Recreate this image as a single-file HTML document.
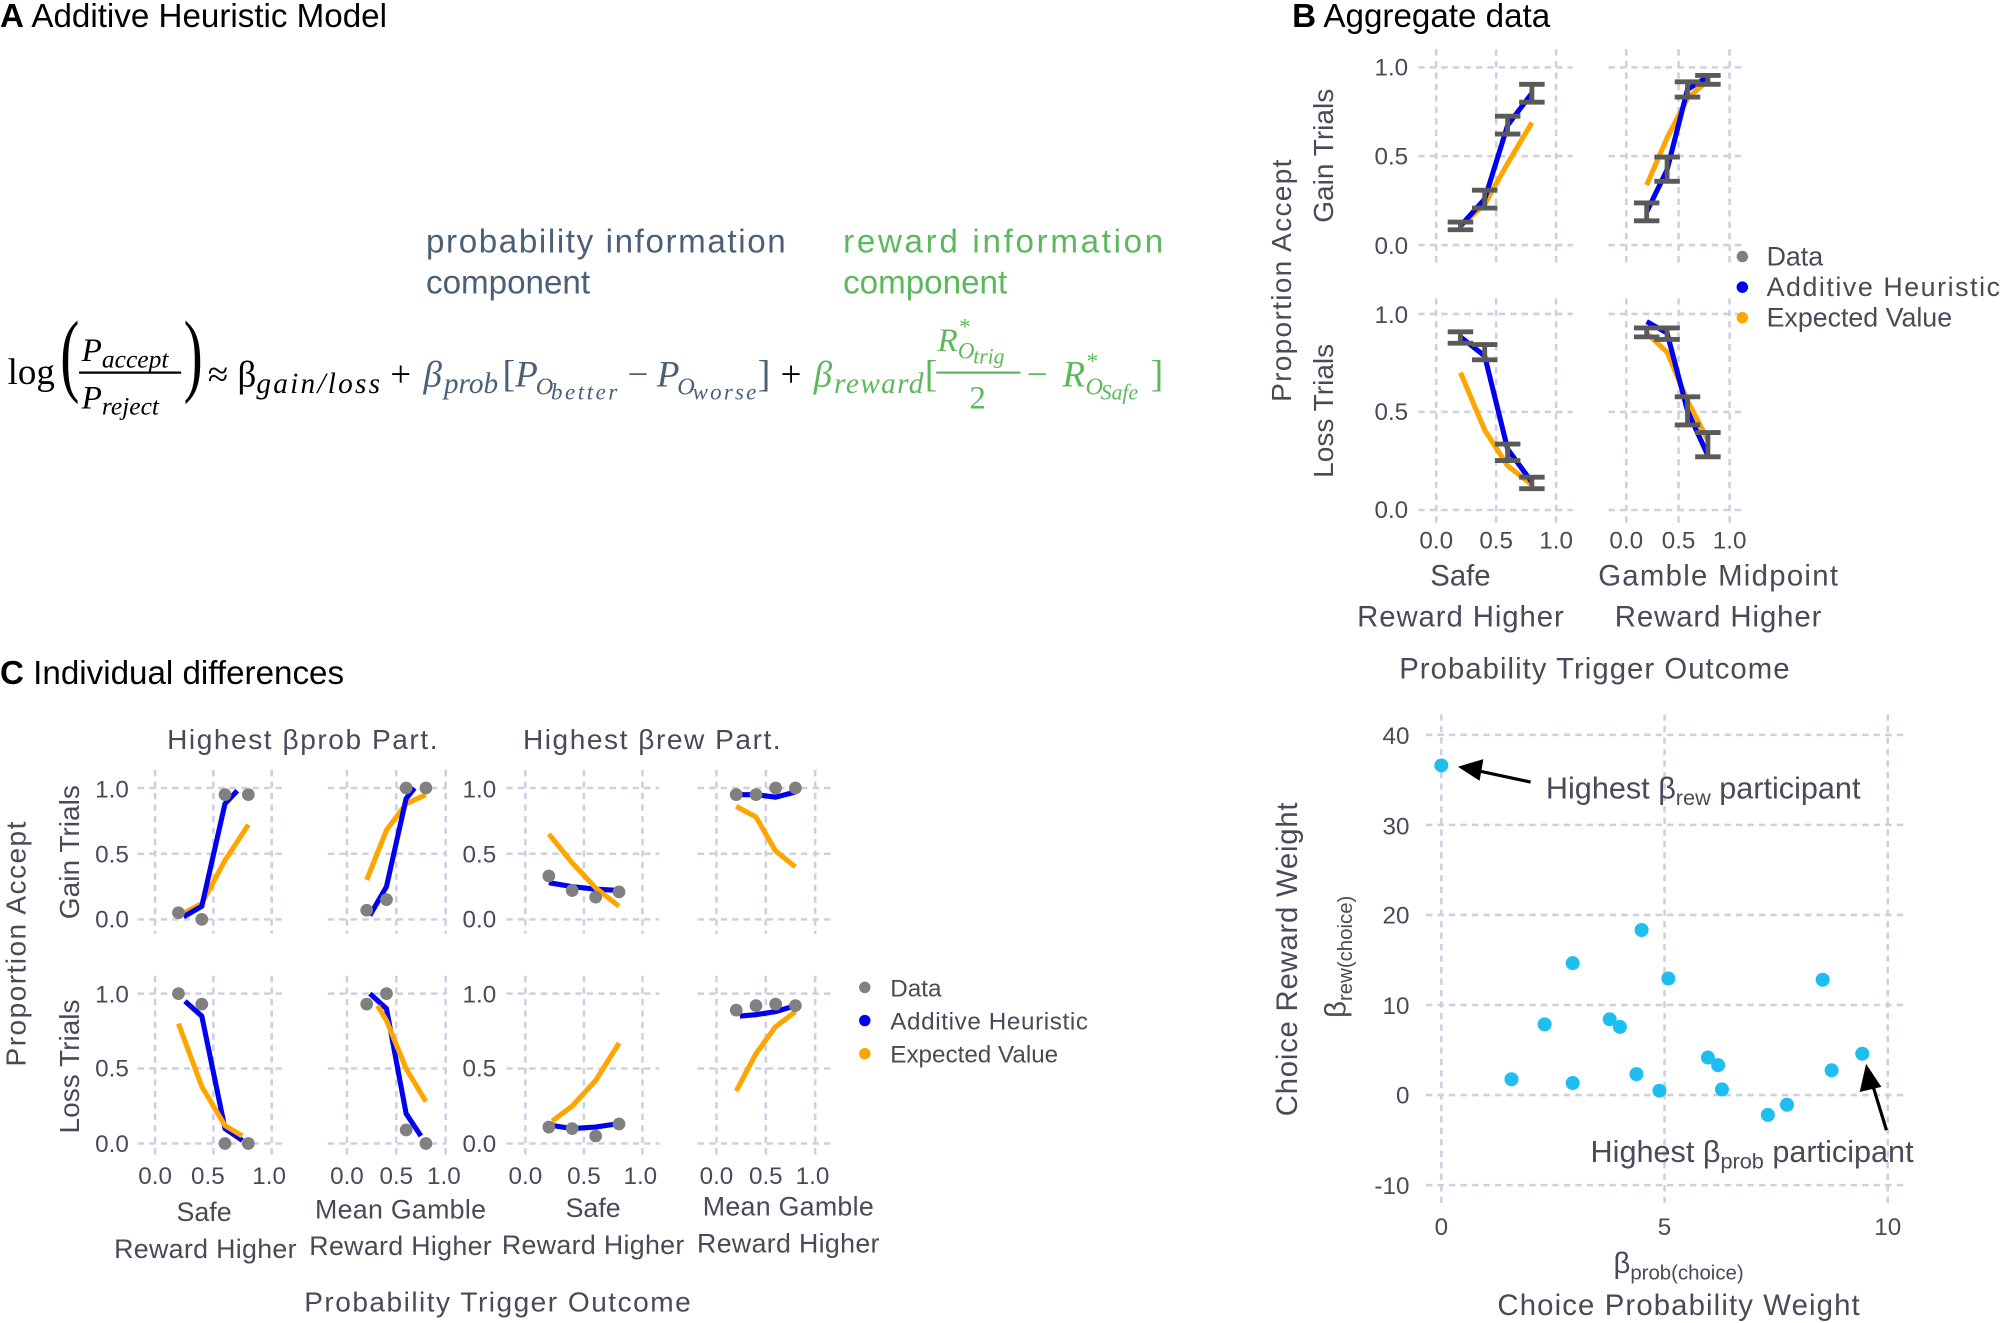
<!DOCTYPE html>
<html><head><meta charset="utf-8"><style>
html,body{margin:0;padding:0;background:#fff}
svg{display:block}
text{font-family:"Liberation Sans",sans-serif;fill:#4b4858}
.g{stroke:#cfcfe2;stroke-width:2;stroke-dasharray:5 4;fill:none}
.bl{stroke:#0000f0;stroke-width:4;fill:none;stroke-linejoin:round}
.or{stroke:#ffa500;stroke-width:4;fill:none;stroke-linejoin:round}
.eb{stroke:#5a5a5a;stroke-width:3.8;fill:none}
.d{fill:#808080}
.tk{font-size:19px}
.s{font-family:"Liberation Serif",serif}
</style></head><body>
<svg width="2000" height="1323" viewBox="0 0 1568 1037" xmlns="http://www.w3.org/2000/svg">
<!-- Panel A -->
<text x="0" y="21" font-size="26" style="fill:#000"><tspan font-weight="bold">A</tspan> Additive Heuristic Model</text>
<text x="334" y="198" font-size="26" textLength="282" style="fill:#4a5f78">probability information</text>
<text x="334" y="230" font-size="26" style="fill:#4a5f78">component</text>
<text x="661" y="198" font-size="26" textLength="251" style="fill:#5cb85c">reward information</text>
<text x="661" y="230" font-size="26" style="fill:#5cb85c">component</text>
<text x="6" y="301" font-size="29" class="s" style="fill:#000">log</text>
<text x="48" y="306" font-size="60" class="s" style="fill:#000" transform="scale(0.75,1.2) translate(15,-55)">(</text>
<text x="64" y="283" font-size="26" font-style="italic" class="s" style="fill:#000">P<tspan font-size="20" dy="5">accept</tspan></text>
<line x1="62" y1="292" x2="142" y2="292" stroke="#000" stroke-width="1.8"/>
<text x="64" y="320" font-size="26" font-style="italic" class="s" style="fill:#000">P<tspan font-size="20" dy="5">reject</tspan></text>
<text x="142" y="306" font-size="60" class="s" style="fill:#000" transform="scale(0.75,1.2) translate(50,-55)">)</text>
<text x="163" y="303" font-size="29" class="s" style="fill:#000">≈ β</text>
<text x="201" y="308" font-size="23" font-style="italic" class="s" style="fill:#000" textLength="97">gain/loss</text>
<text x="306" y="303" font-size="29" class="s" style="fill:#000">+</text>
<text x="332" y="303" font-size="29" font-style="italic" class="s" style="fill:#4a5f78">β</text>
<text x="348" y="308" font-size="23" font-style="italic" class="s" style="fill:#4a5f78">prob</text>
<text x="394" y="303" font-size="30" class="s" style="fill:#4a5f78">[</text>
<text x="404" y="303" font-size="29" font-style="italic" class="s" style="fill:#4a5f78">P</text>
<text x="420" y="309" font-size="19" font-style="italic" class="s" style="fill:#4a5f78">O</text>
<text x="432" y="313" font-size="18" font-style="italic" class="s" style="fill:#4a5f78" textLength="52">better</text>
<text x="492" y="303" font-size="29" class="s" style="fill:#4a5f78">−</text>
<text x="515" y="303" font-size="29" font-style="italic" class="s" style="fill:#4a5f78">P</text>
<text x="531" y="309" font-size="19" font-style="italic" class="s" style="fill:#4a5f78">O</text>
<text x="543" y="313" font-size="18" font-style="italic" class="s" style="fill:#4a5f78" textLength="50">worse</text>
<text x="594" y="303" font-size="30" class="s" style="fill:#4a5f78">]</text>
<text x="612" y="303" font-size="29" class="s" style="fill:#000">+</text>
<text x="638" y="303" font-size="29" font-style="italic" class="s" style="fill:#5cb85c">β</text>
<text x="654" y="308" font-size="23" font-style="italic" class="s" style="fill:#5cb85c" textLength="70">reward</text>
<text x="725" y="303" font-size="30" class="s" style="fill:#5cb85c">[</text>
<text x="735" y="275" font-size="26" font-style="italic" class="s" style="fill:#5cb85c">R</text>
<text x="752" y="262" font-size="18" class="s" style="fill:#5cb85c">*</text>
<text x="751" y="281" font-size="18" font-style="italic" class="s" style="fill:#5cb85c">O</text>
<text x="763" y="285" font-size="17" font-style="italic" class="s" style="fill:#5cb85c">trig</text>
<line x1="734" y1="292" x2="800" y2="292" stroke="#5cb85c" stroke-width="1.8"/>
<text x="760" y="320" font-size="26" class="s" style="fill:#5cb85c">2</text>
<text x="805" y="303" font-size="29" class="s" style="fill:#5cb85c">−</text>
<text x="833" y="303" font-size="29" font-style="italic" class="s" style="fill:#5cb85c">R</text>
<text x="852" y="289" font-size="18" class="s" style="fill:#5cb85c">*</text>
<text x="851" y="309" font-size="19" font-style="italic" class="s" style="fill:#5cb85c">O</text>
<text x="863" y="313" font-size="17" font-style="italic" class="s" style="fill:#5cb85c">Safe</text>
<text x="902" y="303" font-size="30" class="s" style="fill:#5cb85c">]</text>

<!-- Panel B -->
<text x="1013" y="21" font-size="26" style="fill:#000"><tspan font-weight="bold">B</tspan> Aggregate data</text>
<g class="g">
<path d="M1112 52.7H1233M1112 122.3H1233M1112 192H1233M1126 38.6V205.6M1173 38.6V205.6M1220 38.6V205.6"/>
<path d="M1261 52.7H1368M1261 122.3H1368M1261 192H1368M1275 38.6V205.6M1316 38.6V205.6M1356 38.6V205.6"/>
<path d="M1112 246H1233M1112 322.8H1233M1112 399.7H1233M1126 233.7V411.4M1173 233.7V411.4M1220 233.7V411.4"/>
<path d="M1261 246H1368M1261 322.8H1368M1261 399.7H1368M1275 233.7V411.4M1316 233.7V411.4M1356 233.7V411.4"/>
</g>
<g class="tk" text-anchor="end">
<text x="1104" y="59">1.0</text><text x="1104" y="129">0.5</text><text x="1104" y="199">0.0</text>
<text x="1104" y="253">1.0</text><text x="1104" y="329">0.5</text><text x="1104" y="406">0.0</text>
</g>
<g class="tk" text-anchor="middle">
<text x="1126" y="430">0.0</text><text x="1173" y="430">0.5</text><text x="1220" y="430">1.0</text>
<text x="1275" y="430">0.0</text><text x="1316" y="430">0.5</text><text x="1356" y="430">1.0</text>
</g>
<polyline class="or" points="1145,177 1164,160 1182,128 1201,96"/>
<polyline class="bl" points="1145,177 1164,156 1182,98 1201,73"/>
<path class="eb" d="M1135 180H1155M1135 174H1155M1145 180V174M1154 163H1174M1154 149H1174M1164 163V149M1172 105H1192M1172 91H1192M1182 105V91M1191 80H1211M1191 66H1211M1201 80V66"/>
<polyline class="or" points="1291,145 1307,108 1323,77 1339,63"/>
<polyline class="bl" points="1291,166 1307,133 1323,70 1339,60"/>
<path class="eb" d="M1281 173H1301M1281 159H1301M1291 173V159M1297 142H1317M1297 123H1317M1307 142V123M1313 76H1333M1313 64H1333M1323 76V64M1329 66H1349M1329 59H1349M1339 66V59"/>
<polyline class="or" points="1145,292 1164,337 1182,365 1201,380"/>
<polyline class="bl" points="1145,264 1164,279 1182,352 1201,378"/>
<path class="eb" d="M1135 269H1155M1135 260H1155M1145 269V260M1154 282H1174M1154 270H1174M1164 282V270M1172 361H1192M1172 348H1192M1182 361V348M1191 383H1211M1191 374H1211M1201 383V374"/>
<polyline class="or" points="1291,261 1307,276 1323,314 1339,345"/>
<polyline class="bl" points="1291,252 1307,261 1323,322 1339,357"/>
<path class="eb" d="M1281 264H1301M1281 257H1301M1291 264V257M1297 266H1317M1297 257H1317M1307 266V257M1313 333H1333M1313 311H1333M1323 333V311M1329 358H1349M1329 339H1349M1339 358V339"/>
<circle cx="1366" cy="201" r="4.5" fill="#808080"/><circle cx="1366" cy="225" r="4.5" fill="#0000f0"/><circle cx="1366" cy="249" r="4.5" fill="#ffa500"/>
<text x="1385" y="208" font-size="21">Data</text>
<text x="1385" y="232" font-size="21" textLength="183">Additive Heuristic</text>
<text x="1385" y="256" font-size="21">Expected Value</text>
<text transform="translate(1012,220) rotate(-90)" text-anchor="middle" font-size="22" textLength="190">Proportion Accept</text>
<text transform="translate(1045,122) rotate(-90)" text-anchor="middle" font-size="22">Gain Trials</text>
<text transform="translate(1045,322) rotate(-90)" text-anchor="middle" font-size="22">Loss Trials</text>
<text x="1145" y="459" text-anchor="middle" font-size="23">Safe</text>
<text x="1145" y="491" text-anchor="middle" font-size="23" textLength="162">Reward Higher</text>
<text x="1347" y="459" text-anchor="middle" font-size="23" textLength="188">Gamble Midpoint</text>
<text x="1347" y="491" text-anchor="middle" font-size="23" textLength="162">Reward Higher</text>
<text x="1250" y="532" text-anchor="middle" font-size="23" textLength="306">Probability Trigger Outcome</text>

<!-- Panel C -->
<text x="0" y="536" font-size="26" style="fill:#000"><tspan font-weight="bold">C</tspan> Individual differences</text>
<text x="237" y="587" text-anchor="middle" font-size="22" textLength="212">Highest βprob Part.</text>
<text x="511" y="587" text-anchor="middle" font-size="22" textLength="202">Highest βrew Part.</text>
<g class="g">
<path d="M108 617.7H224M108 669.2H224M108 720.7H224M121.6 603.6V732M167.3 603.6V732M213 603.6V732"/>
<path d="M257 617.7H350M257 669.2H350M257 720.7H350M272 603.6V732M310.7 603.6V732M349.4 603.6V732"/>
<path d="M397 617.7H517M397 669.2H517M397 720.7H517M411.9 603.6V732M457.8 603.6V732M503.7 603.6V732"/>
<path d="M547 617.7H655M547 669.2H655M547 720.7H655M561.7 603.6V732M600.4 603.6V732M639.1 603.6V732"/>
<path d="M108 778.9H224M108 837.6H224M108 896.4H224M121.6 765V909M167.3 765V909M213 765V909"/>
<path d="M257 778.9H350M257 837.6H350M257 896.4H350M272 765V909M310.7 765V909M349.4 765V909"/>
<path d="M397 778.9H517M397 837.6H517M397 896.4H517M411.9 765V909M457.8 765V909M503.7 765V909"/>
<path d="M547 778.9H655M547 837.6H655M547 896.4H655M561.7 765V909M600.4 765V909M639.1 765V909"/>
</g>
<g class="tk" text-anchor="end">
<text x="101" y="625">1.0</text><text x="101" y="676">0.5</text><text x="101" y="727">0.0</text>
<text x="101" y="786">1.0</text><text x="101" y="844">0.5</text><text x="101" y="903">0.0</text>
<text x="389" y="625">1.0</text><text x="389" y="676">0.5</text><text x="389" y="727">0.0</text>
<text x="389" y="786">1.0</text><text x="389" y="844">0.5</text><text x="389" y="903">0.0</text>
</g>
<g class="tk" text-anchor="middle">
<text x="121.6" y="928">0.0</text><text x="163" y="928">0.5</text><text x="211" y="928">1.0</text>
<text x="272" y="928">0.0</text><text x="310.7" y="928">0.5</text><text x="348" y="928">1.0</text>
<text x="411.9" y="928">0.0</text><text x="457.8" y="928">0.5</text><text x="502" y="928">1.0</text>
<text x="561.7" y="928">0.0</text><text x="600.4" y="928">0.5</text><text x="637" y="928">1.0</text>
</g>
<polyline class="or" points="144.5,715.5 158.2,708.3 176.4,674.4 194.7,646.5"/>
<polyline class="bl" points="144,718.6 158.2,710.4 176.4,630 186,619.8"/>
<g class="d"><circle cx="139.9" cy="715.5" r="5"/><circle cx="158.2" cy="720.7" r="5"/><circle cx="176.4" cy="622.9" r="5"/><circle cx="194.7" cy="622.9" r="5"/></g>
<polyline class="or" points="287.5,689.8 303,650.7 318.4,630.1 333.9,622.9"/>
<polyline class="bl" points="290,717.6 303,695 318.4,626 325,617.7"/>
<g class="d"><circle cx="287.5" cy="713.5" r="5"/><circle cx="303" cy="705.2" r="5"/><circle cx="318.4" cy="617.7" r="5"/><circle cx="333.9" cy="617.7" r="5"/></g>
<polyline class="bl" points="430.3,691.9 448.6,695 467,697 485.3,698"/>
<polyline class="or" points="430.3,653.8 448.6,676.4 467,696 485.3,710.4"/>
<g class="d"><circle cx="430.3" cy="686.7" r="5"/><circle cx="448.6" cy="698" r="5"/><circle cx="467" cy="703.2" r="5"/><circle cx="485.3" cy="699.1" r="5"/></g>
<polyline class="bl" points="577.2,622.9 592.7,622.9 608.1,624.9 623.6,620.8"/>
<polyline class="or" points="577.2,632.1 592.7,640.4 608.1,667.1 623.6,679.5"/>
<g class="d"><circle cx="577.2" cy="622.9" r="5"/><circle cx="592.7" cy="622.9" r="5"/><circle cx="608.1" cy="617.7" r="5"/><circle cx="623.6" cy="617.7" r="5"/></g>
<polyline class="bl" points="145,784.8 158.2,796.5 176.4,884.7 190,894"/>
<polyline class="or" points="139.9,802.4 158.2,851.7 176.4,882.3 190,890.5"/>
<g class="d"><circle cx="139.9" cy="778.9" r="5"/><circle cx="158.2" cy="787.1" r="5"/><circle cx="176.4" cy="896.4" r="5"/><circle cx="194.7" cy="896.4" r="5"/></g>
<polyline class="bl" points="290,778.9 303,790.7 318.4,872.9 330,890.5"/>
<polyline class="or" points="296,788.3 303,800 318.4,837.7 333.9,863.5"/>
<g class="d"><circle cx="287.5" cy="787.1" r="5"/><circle cx="303" cy="778.9" r="5"/><circle cx="318.4" cy="885.8" r="5"/><circle cx="333.9" cy="896.4" r="5"/></g>
<polyline class="bl" points="433,882.3 448.6,884.7 467,883.5 483,881.1"/>
<polyline class="or" points="433,878.8 448.6,867 467,847 485.3,817.7"/>
<g class="d"><circle cx="430.3" cy="883.5" r="5"/><circle cx="448.6" cy="884.7" r="5"/><circle cx="467" cy="890.5" r="5"/><circle cx="485.3" cy="881.1" r="5"/></g>
<polyline class="bl" points="580,796.5 592.7,795.4 608.1,793 623.6,788.3"/>
<polyline class="or" points="577.2,855.3 592.7,825.9 608.1,804.8 623.6,793"/>
<g class="d"><circle cx="577.2" cy="791.8" r="5"/><circle cx="592.7" cy="788.3" r="5"/><circle cx="608.1" cy="787.1" r="5"/><circle cx="623.6" cy="788.3" r="5"/></g>
<circle cx="678" cy="774" r="4.5" fill="#808080"/><circle cx="678" cy="800" r="4.5" fill="#0000f0"/><circle cx="678" cy="826" r="4.5" fill="#ffa500"/>
<text x="698" y="781" font-size="19">Data</text>
<text x="698" y="807" font-size="19" textLength="155">Additive Heuristic</text>
<text x="698" y="833" font-size="19">Expected Value</text>
<text transform="translate(20,740) rotate(-90)" text-anchor="middle" font-size="22" textLength="192">Proportion Accept</text>
<text transform="translate(62,668) rotate(-90)" text-anchor="middle" font-size="22">Gain Trials</text>
<text transform="translate(62,836) rotate(-90)" text-anchor="middle" font-size="22">Loss Trials</text>
<g font-size="21" text-anchor="middle">
<text x="160" y="957">Safe</text><text x="161" y="986" textLength="143">Reward Higher</text>
<text x="314" y="955" textLength="134">Mean Gamble</text><text x="314" y="984" textLength="143">Reward Higher</text>
<text x="465" y="954">Safe</text><text x="465" y="983" textLength="143">Reward Higher</text>
<text x="618" y="953" textLength="134">Mean Gamble</text><text x="618" y="982" textLength="143">Reward Higher</text>
</g>
<text x="390" y="1028" text-anchor="middle" font-size="22" textLength="303">Probability Trigger Outcome</text>

<!-- Scatter -->
<g class="g">
<path d="M1118 576H1495M1118 646.6H1495M1118 717.2H1495M1118 787.8H1495M1118 858.4H1495M1118 929H1495M1130 560V945M1305 560V945M1480 560V945"/>
</g>
<g class="tk" text-anchor="end" font-size="20">
<text x="1105" y="583">40</text><text x="1105" y="654">30</text><text x="1105" y="724">20</text><text x="1105" y="795">10</text><text x="1105" y="865">0</text><text x="1105" y="936">-10</text>
</g>
<g class="tk" text-anchor="middle" font-size="20">
<text x="1130" y="968">0</text><text x="1305" y="968">5</text><text x="1480" y="968">10</text>
</g>
<g fill="#1ebef0">
<circle cx="1130" cy="600" r="5.5"/><circle cx="1185" cy="846" r="5.5"/><circle cx="1211" cy="803" r="5.5"/><circle cx="1233" cy="755" r="5.5"/><circle cx="1233" cy="849" r="5.5"/><circle cx="1262" cy="799" r="5.5"/><circle cx="1270" cy="805" r="5.5"/><circle cx="1283" cy="842" r="5.5"/><circle cx="1287" cy="729" r="5.5"/><circle cx="1301" cy="855" r="5.5"/><circle cx="1308" cy="767" r="5.5"/><circle cx="1339" cy="829" r="5.5"/><circle cx="1347" cy="835" r="5.5"/><circle cx="1350" cy="854" r="5.5"/><circle cx="1386" cy="874" r="5.5"/><circle cx="1401" cy="866" r="5.5"/><circle cx="1429" cy="768" r="5.5"/><circle cx="1436" cy="839" r="5.5"/><circle cx="1460" cy="826" r="5.5"/>
</g>
<line x1="1200" y1="613" x2="1158" y2="604" stroke="#000" stroke-width="2.5"/>
<polygon points="1143,601 1163,595 1160,612" fill="#000"/>
<line x1="1479" y1="886" x2="1468" y2="850" stroke="#000" stroke-width="2.5"/>
<polygon points="1463,834 1475,852 1458,856" fill="#000"/>
<text x="1212" y="626" font-size="24">Highest β<tspan font-size="17" dy="5">rew</tspan><tspan dy="-5"> participant</tspan></text>
<text x="1247" y="911" font-size="24">Highest β<tspan font-size="17" dy="5">prob</tspan><tspan dy="-5"> participant</tspan></text>
<text transform="translate(1017,752) rotate(-90)" text-anchor="middle" font-size="23" textLength="246">Choice Reward Weight</text>
<text transform="translate(1055,750) rotate(-90)" text-anchor="middle" font-size="23">β<tspan font-size="16" dy="5">rew(choice)</tspan></text>
<text x="1316" y="998" text-anchor="middle" font-size="23">β<tspan font-size="16" dy="5">prob(choice)</tspan></text>
<text x="1316" y="1031" text-anchor="middle" font-size="23" textLength="284">Choice Probability Weight</text>
</svg>
</body></html>
